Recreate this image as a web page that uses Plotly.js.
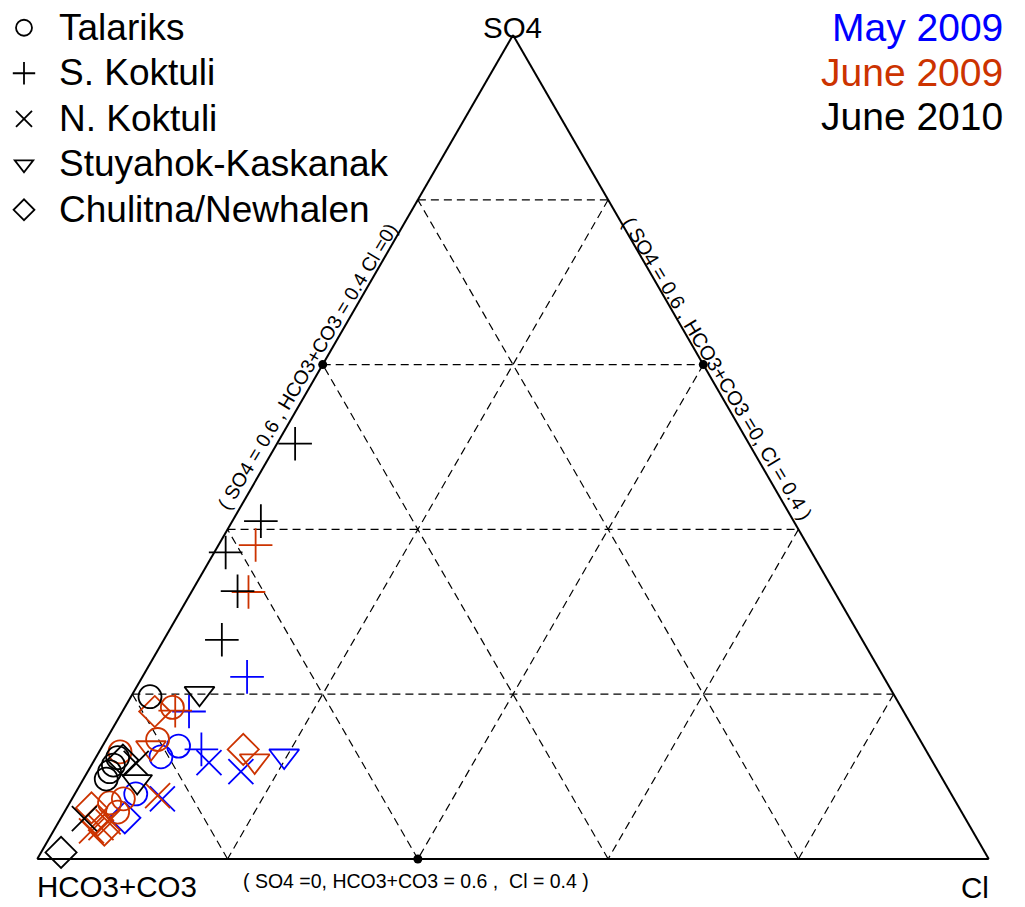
<!DOCTYPE html>
<html><head><meta charset="utf-8">
<script src="https://cdn.plot.ly/plotly-3.0.1.min.js"></script>
<style>html,body{margin:0;padding:0;background:#fff}#chart{width:1025px;height:907px}</style>
</head><body><div id="chart"></div>
<script>
// ---------- data (percent of SO4 / HCO3+CO3 / Cl) ----------
const SITES = ['Talariks', 'S. Koktuli', 'N. Koktuli', 'Stuyahok-Kaskanak', 'Chulitna/Newhalen'];
const CAMPAIGNS = ['May 2009', 'June 2009', 'June 2010'];

const may2009_site = ['Talariks','Talariks','Talariks','S. Koktuli','S. Koktuli','S. Koktuli','N. Koktuli','N. Koktuli','N. Koktuli','Stuyahok-Kaskanak','Chulitna/Newhalen'];
const may2009_SO4  = [13.7, 12.4, 7.9, 22.1, 17.9, 13.3, 11.7, 10.6, 7.3, 12.5, 5.0];
const may2009_HCO3 = [78.3, 80.8, 85.7, 66.9, 75.1, 76.1, 76.1, 73.3, 83.2, 67.8, 88.3];
const may2009_Cl   = [ 8.0,  6.8,  6.4, 11.0,  7.0, 10.6, 12.2, 16.1,  9.5, 19.7,  6.7];

const jun2009_site = ['Talariks','Talariks','Talariks','Talariks','Talariks','Talariks','S. Koktuli','S. Koktuli','S. Koktuli','N. Koktuli','N. Koktuli','N. Koktuli','N. Koktuli','Stuyahok-Kaskanak','Stuyahok-Kaskanak','Chulitna/Newhalen','Chulitna/Newhalen','Chulitna/Newhalen','Chulitna/Newhalen','Chulitna/Newhalen'];
const jun2009_SO4  = [18.4, 14.5, 13.0, 7.3, 6.8, 5.7, 38.1, 32.4, 18.0, 7.7, 3.4, 3.8, 4.5, 13.5, 11.9, 17.9, 13.3, 6.2, 4.7, 3.5];
const jun2009_HCO3 = [76.6, 80.1, 84.8, 87.3, 89.0, 88.7, 58.0, 61.6, 76.5, 83.5, 92.6, 91.4, 90.3, 81.3, 71.2, 78.7, 71.7, 91.2, 91.3, 91.2];
const jun2009_Cl   = [ 5.0,  5.4,  2.2,  5.4,  4.2,  5.6,  3.9,  6.0,  5.5,  8.8,  4.0,  4.8,  5.2,  5.2, 16.9,  3.4, 15.0,  2.6,  4.0,  5.3];

const jun2010_site = ['Talariks','Talariks','Talariks','Talariks','Talariks','S. Koktuli','S. Koktuli','S. Koktuli','S. Koktuli','S. Koktuli','N. Koktuli','N. Koktuli','Stuyahok-Kaskanak','Stuyahok-Kaskanak','Chulitna/Newhalen','Chulitna/Newhalen'];
const jun2010_SO4  = [19.7, 12.3, 11.4, 10.6, 9.7, 50.4, 41.0, 37.2, 32.5, 26.6, 4.9, 11.6, 20.1, 9.4, 0.8, 12.0];
const jun2010_HCO3 = [78.3, 85.4, 86.3, 87.1, 87.9, 47.7, 56.0, 61.6, 62.7, 67.3, 92.6, 83.8, 72.9, 84.8, 97.1, 85.0];
const jun2010_Cl   = [ 2.0,  2.3,  2.3,  2.3,  2.4,  1.9,  3.0,  1.2,  4.8,  6.1,  2.5,  4.6,  7.0,  5.8,  2.1,  3.0];

// reference points marked on the edges
const ref_SO4  = [60, 60, 0];
const ref_HCO3 = [40, 0, 60];
const ref_Cl   = [0, 40, 40];

// ---------- styling ----------
const FONT = 'Arial, "Liberation Sans", Helvetica, sans-serif';
const COLORS = {'May 2009': '#0000FF', 'June 2009': '#CC3300', 'June 2010': '#000000'};
const SYMBOL = {'Talariks':'circle-open','S. Koktuli':'cross-thin-open','N. Koktuli':'x-thin-open','Stuyahok-Kaskanak':'triangle-down-open','Chulitna/Newhalen':'diamond-open'};
const MSIZE  = {'Talariks':23,'S. Koktuli':24,'N. Koktuli':25,'Stuyahok-Kaskanak':26,'Chulitna/Newhalen':24};

const campaignData = {
  'May 2009':  {site: may2009_site, a: may2009_SO4, b: may2009_HCO3, c: may2009_Cl},
  'June 2009': {site: jun2009_site, a: jun2009_SO4, b: jun2009_HCO3, c: jun2009_Cl},
  'June 2010': {site: jun2010_site, a: jun2010_SO4, b: jun2010_HCO3, c: jun2010_Cl}
};

const traces = [];
CAMPAIGNS.forEach(camp => {
  const d = campaignData[camp];
  SITES.forEach(s => {
    const idx = d.site.map((v, i) => v === s ? i : -1).filter(i => i >= 0);
    if (!idx.length) return;
    const isLegend = camp === 'June 2010';   // black traces carry the site legend keys
    traces.push({
      type: 'scatterternary', mode: 'markers', cliponaxis: false,
      showlegend: isLegend, legendrank: SITES.indexOf(s) + 1,
      name: isLegend ? '\u00A0' : s + ' ' + camp,
      a: idx.map(i => d.a[i]), b: idx.map(i => d.b[i]), c: idx.map(i => d.c[i]),
      marker: {symbol: SYMBOL[s], size: MSIZE[s], color: COLORS[camp],
               line: {color: COLORS[camp], width: 1.8}}
    });
  });
});
traces.push({
  type: 'scatterternary', mode: 'markers', showlegend: false, cliponaxis: false, name: 'ref',
  a: ref_SO4, b: ref_HCO3, c: ref_Cl,
  marker: {symbol: 'circle', size: 9, color: '#000'}
});

// ---------- layout ----------
const W = 1025, H = 907, L = 37, R = 36, T = 35, B = 48;
const px = x => (x - L) / (W - L - R);
const py = y => (H - B - y) / (H - T - B);

function axisStyle() {
  return {title: {text: ''}, showticklabels: false, ticks: '', min: 0,
          linecolor: '#000', linewidth: 2, showline: true,
          showgrid: true, gridcolor: '#000', gridwidth: 1.2, griddash: '8px,5px',
          tick0: 0, dtick: 20, layer: 'below traces'};
}

function ann(text, x, y, size, extra) {
  return Object.assign({text: text, x: px(x), y: py(y), xref: 'paper', yref: 'paper',
    showarrow: false, xanchor: 'center', yanchor: 'middle',
    font: {family: FONT, size: size, color: '#000'}}, extra || {});
}

const annotations = [
  ann('SO4', 512, 27, 29.5),
  ann('HCO3+CO3', 117, 886, 29.5),
  ann('Cl', 975, 887, 29.5),
  ann('( SO4 = 0.6 , HCO3+CO3 = 0.4 Cl =0)', 307, 367, 19.5, {textangle: -59}),
  ann('( SO4 = 0.6 , HCO3+CO3 =0, Cl = 0.4 )', 717, 368, 20, {textangle: 59}),
  ann('( SO4 =0, HCO3+CO3 = 0.6 ,  Cl = 0.4 )', 416, 881, 19.5),
];
[['May 2009', 27], ['June 2009', 72], ['June 2010', 117]].forEach(([t, y]) => {
  annotations.push(ann(t, 1005, y, 39, {xanchor: 'right', font: {family: FONT, size: 39, color: COLORS[t]}}));
});
// site names next to legend keys
const LEGEND_ROW = 45.5, LEGEND_Y0 = 27;
SITES.forEach((s, i) => {
  annotations.push(ann(s, 57, LEGEND_Y0 + i * LEGEND_ROW, 37, {xanchor: 'left'}));
});

const layout = {
  width: W, height: H,
  margin: {l: L, r: R, t: T, b: B, pad: 0, autoexpand: false},
  paper_bgcolor: '#fff',
  font: {family: FONT, color: '#000'},
  showlegend: true,
  legend: {x: px(4), y: py(0), xanchor: 'left', yanchor: 'top',
           font: {family: FONT, size: 32.7, color: '#000'}, bgcolor: 'rgba(0,0,0,0)',
           itemsizing: 'trace', tracegroupgap: 0, borderwidth: 0, traceorder: 'normal'},
  ternary: {
    sum: 100, bgcolor: '#fff',
    domain: {x: [0, 1], y: [0, 1]},
    aaxis: axisStyle(), baxis: axisStyle(), caxis: axisStyle()
  },
  annotations: annotations
};

Plotly.newPlot('chart', traces, layout, {displayModeBar: false, staticPlot: true});
</script>
</body></html>
